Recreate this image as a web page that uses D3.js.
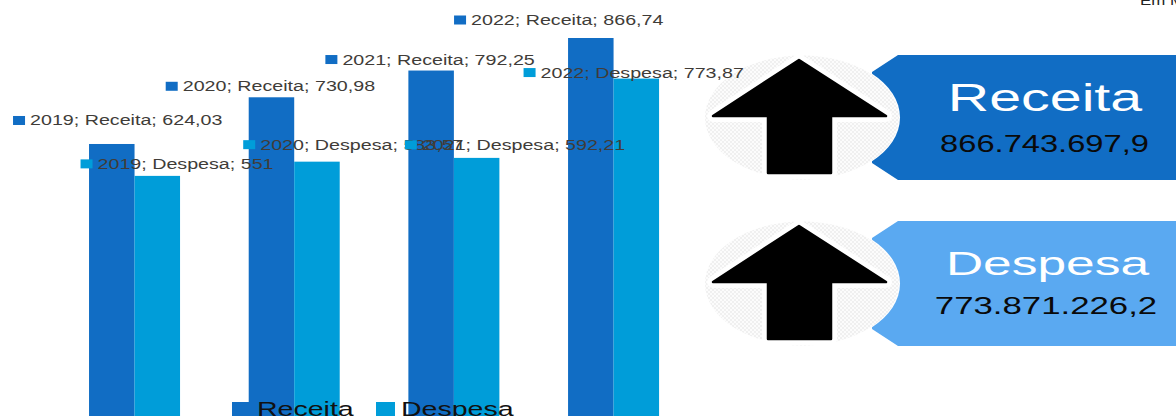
<!DOCTYPE html>
<html><head><meta charset="utf-8">
<script src="https://d3js.org/d3.v7.min.js"></script>
<style>html,body{margin:0;padding:0;background:#fff;overflow:hidden}svg{display:block}text{font-family:"Liberation Sans",Arial,sans-serif}</style>
</head><body><svg id="c" width="1176" height="416"></svg>
<script>
const years=["2019","2020","2021","2022"];
const seriesNames=["Receita","Despesa"];
const receita=[624.03,730.98,792.25,866.74];
const despesa=[551,583.57,592.21,773.87];
const receitaLabels=["624,03","730,98","792,25","866,74"];
const despesaLabels=["551","583,57","592,21","773,87"];
const kpiTitles=["Receita","Despesa"];
const kpiValues=["866.743.697,9","773.871.226,2"];
const unitText="Em Milhões";
const colors=["#116DC4","#009DD9"];
const kpiColors=["#116DC4","#5AA9F1"];
// label anchor offsets from each bar's top-left corner
const receitaOffsets=[[-76,-23.5],[-83,-11],[-83,-11],[-114,-18]];
const despesaOffsets=[[-54,-12],[-51,-17],[-49,-13],[-90,-6]];
const STRETCH=1.405;

const svg=d3.select("#c");
const pat=svg.append("defs").append("pattern").attr("id","dots").attr("width",4).attr("height",4).attr("patternUnits","userSpaceOnUse");
pat.append("rect").attr("width",4).attr("height",4).attr("fill","#fcfcfc");
pat.append("rect").attr("width",2).attr("height",2).attr("fill","#f0f0f0");
pat.append("rect").attr("x",2).attr("y",2).attr("width",2).attr("height",2).attr("fill","#f0f0f0");

const x=d3.scaleBand().domain(years).range([54.7,693.4]).paddingInner(0.43).paddingOuter(0.215);
const inner=d3.scaleBand().domain(seriesNames).range([0,x.bandwidth()]);
const y=d3.scaleLinear().domain([0,866.74]).range([416.5,38]);

function stretched(g,px,py,txt,size,sx,fill,anchor){
  return g.append("text").attr("transform",`translate(${px},${py}) scale(${sx},1)`)
    .attr("font-size",size).attr("fill",fill).attr("text-anchor",anchor||"start").text(txt);
}
const rows=years.map((yr,i)=>({yr,i,r:receita[i],d:despesa[i],rl:receitaLabels[i],dl:despesaLabels[i]}));
const bars=svg.append("g");
bars.selectAll(".r").data(rows).join("rect").attr("class","r")
  .attr("x",d=>x(d.yr)+inner("Receita")).attr("y",d=>y(d.r)).attr("width",inner.bandwidth()).attr("height",d=>y(0)-y(d.r)).attr("fill",colors[0]);
bars.selectAll(".d").data(rows).join("rect").attr("class","d")
  .attr("x",d=>x(d.yr)+inner("Despesa")).attr("y",d=>y(d.d)).attr("width",inner.bandwidth()).attr("height",d=>y(0)-y(d.d)).attr("fill",colors[1]);

const leg=svg.append("g");
[[232,seriesNames[0],colors[0]],[376,seriesNames[1],colors[1]]].forEach(([lx,t,c])=>{
  leg.append("rect").attr("x",lx).attr("y",402).attr("width",19).attr("height",14).attr("fill",c);
  stretched(leg,lx+25,416,t,20.3,STRETCH,"#111");
});

const tops=[55,221];
const titleFont=[[39,1.47,1045,56],[33,1.56,1047.5,54]];
const valueFont=[[23,1.42,1044.5,97],[24,1.45,1046,93]];
kpiTitles.forEach((t,i)=>{
  const g=svg.append("g").attr("transform",`translate(0,${tops[i]})`);
  const bw=125, h=d3.path();
  h.moveTo(898,0);h.lineTo(1176,0);h.lineTo(1176,bw);h.lineTo(898,bw);h.lineTo(872,108);h.lineTo(872,17);h.closePath();
  g.append("path").attr("d",h.toString()).attr("fill",kpiColors[i]);
  g.append("ellipse").attr("cx",802).attr("cy",62.5).attr("rx",98).attr("ry",62.5).attr("fill","#fff");
  g.append("ellipse").attr("cx",802).attr("cy",62.5).attr("rx",97).attr("ry",62).attr("fill","url(#dots)");
  const a=d3.path();
  a.moveTo(799,5);a.lineTo(886,61);a.lineTo(831,61);a.lineTo(831,118);a.lineTo(768,118);a.lineTo(768,61);a.lineTo(713,61);a.closePath();
  g.append("path").attr("d",a.toString()).attr("fill","#fff").attr("stroke","#fff").attr("stroke-width",12).attr("stroke-linejoin","round");
  g.append("path").attr("d",a.toString()).attr("fill","#000").attr("stroke","#000").attr("stroke-width",2.5).attr("stroke-linejoin","round");
  stretched(g,titleFont[i][2],titleFont[i][3],t,titleFont[i][0],titleFont[i][1],"#fff","middle");
  stretched(g,valueFont[i][2],valueFont[i][3],kpiValues[i],valueFont[i][0],valueFont[i][1],"#0a0a0a","middle");
});
stretched(svg,1140,5,unitText,12,STRETCH,"#222");

const labels=svg.append("g");
const labelColor="#403c38";
function dataLabel(bx,by,off,txt,c){
  const lx=bx+off[0], ly=by+off[1];
  labels.append("rect").attr("x",lx).attr("y",ly-4.5).attr("width",12).attr("height",9).attr("fill",c);
  stretched(labels,lx+17,ly+5,txt,14,STRETCH,labelColor);
}
rows.forEach(d=>{
  dataLabel(x(d.yr)+inner("Receita"),y(d.r),receitaOffsets[d.i],`${d.yr}; Receita; ${d.rl}`,colors[0]);
  dataLabel(x(d.yr)+inner("Despesa"),y(d.d),despesaOffsets[d.i],`${d.yr}; Despesa; ${d.dl}`,colors[1]);
});
</script></body></html>
